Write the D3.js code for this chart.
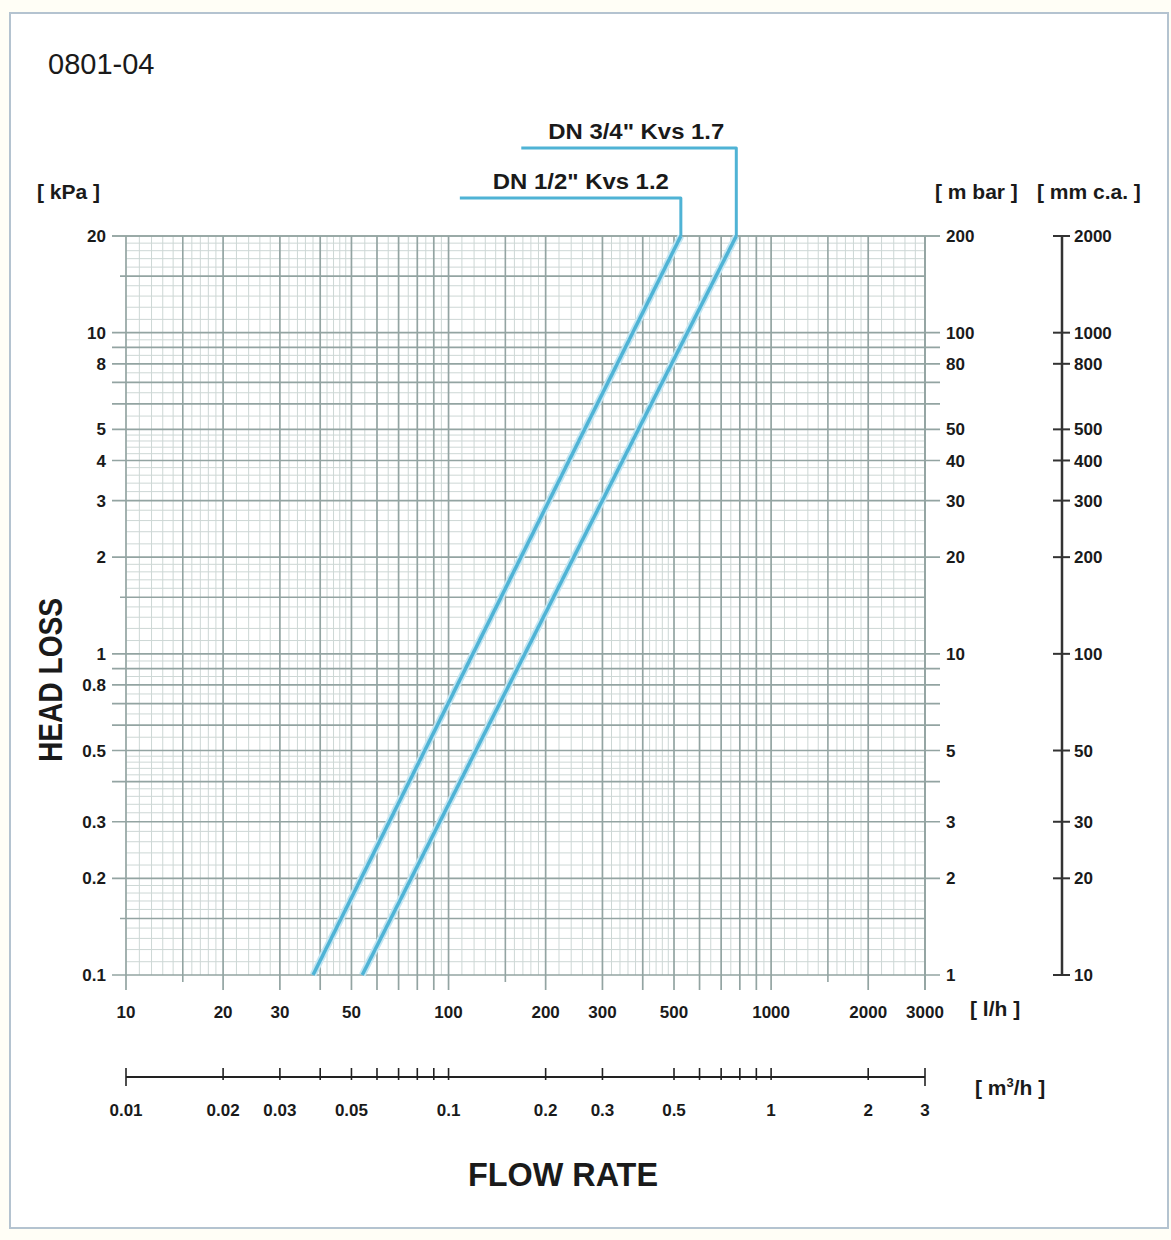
<!DOCTYPE html>
<html>
<head>
<meta charset="utf-8">
<script src="https://cdn.jsdelivr.net/npm/d3@7"></script>
<style>
  body { margin: 0; background: #fffef6; }
  svg { display: block; }
  text { font-family: "Liberation Sans", Arial, sans-serif; fill: #1a1a1a; }
</style>
</head>
<body>
<div id="chart"></div>
<script>
// Chart data
var seriesNames = ['DN 1/2" Kvs 1.2', 'DN 3/4" Kvs 1.7'];
var headLoss = [0.1, 20];            // kPa
var flowHalf = [38, 525];            // l/h
var flowThreeQuarter = [54, 780];    // l/h

// Tick labels
var flowTicks = [10, 20, 30, 50, 100, 200, 300, 500, 1000, 2000, 3000];
var kpaTicks = [20, 10, 8, 5, 4, 3, 2, 1, 0.8, 0.5, 0.3, 0.2, 0.1];
var mbarTicks = [200, 100, 80, 50, 40, 30, 20, 10, 5, 3, 2, 1];
var mmcaTicks = [2000, 1000, 800, 500, 400, 300, 200, 100, 50, 30, 20, 10];
var m3hTicks = [0.01, 0.02, 0.03, 0.04, 0.05, 0.06, 0.07, 0.08, 0.09, 0.1,
                0.2, 0.3, 0.5, 0.6, 0.7, 0.8, 0.9, 1, 2, 3];
var m3hLabels = [0.01, 0.02, 0.03, 0.05, 0.1, 0.2, 0.3, 0.5, 1, 2, 3];

var svgWidth = 1171;
var svgHeight = 1240;

var plot = { left: 126, right: 925, top: 236, bottom: 975 };

var svg = d3.select("#chart")
  .append("svg")
  .attr("width", svgWidth)
  .attr("height", svgHeight);

// page frame
svg.append("rect")
  .attr("x", 10).attr("y", 13)
  .attr("width", 1158).attr("height", 1215)
  .attr("fill", "#ffffff")
  .attr("stroke", "#b4c3d0")
  .attr("stroke-width", 2);

var xScale = d3.scaleLog().domain([10, 3000]).range([plot.left, plot.right]);
var yScale = d3.scaleLog().domain([0.1, 20]).range([plot.bottom, plot.top]);
var yMbar = d3.scaleLog().domain([1, 200]).range([plot.bottom, plot.top]);
var yMmca = d3.scaleLog().domain([10, 2000]).range([plot.bottom, plot.top]);
var xM3h = d3.scaleLog().domain([0.01, 3]).range([plot.left, plot.right]);

// log paper grid: majors at 1,1.5,2..9; minors in between
function gridValues(lo, hi) {
  var major = [], half = [], minor = [];
  for (var d = lo; d < hi; d *= 10) {
    [1, 2, 3, 4, 5, 6, 7, 8, 9].forEach(function(m) { major.push(d * m); });
    half.push(d * 1.5);
    d3.range(1.1, 2.0, 0.1).forEach(function(m) { if (Math.abs(m - 1.5) > 0.01) minor.push(d * m); });
    d3.range(2.2, 5.0, 0.2).forEach(function(m) { if (Math.abs(m - Math.round(m)) > 0.01) minor.push(d * m); });
    d3.range(5.5, 10, 0.5).forEach(function(m) { if (Math.abs(m - Math.round(m)) > 0.01) minor.push(d * m); });
  }
  var keep = function(v) { return v <= hi * 1.0001; };
  major.push(hi);
  return { major: major.filter(keep), half: half.filter(keep), minor: minor.filter(keep) };
}

var gx = gridValues(10, 3000);
var gy = gridValues(0.1, 20);

var grid = svg.append("g");

grid.selectAll(".minor-x").data(gx.minor).enter().append("line")
  .attr("x1", d => xScale(d)).attr("x2", d => xScale(d))
  .attr("y1", plot.top).attr("y2", plot.bottom)
  .attr("stroke", "#cdd7d5").attr("stroke-width", 1);

grid.selectAll(".minor-y").data(gy.minor).enter().append("line")
  .attr("y1", d => yScale(d)).attr("y2", d => yScale(d))
  .attr("x1", plot.left).attr("x2", plot.right)
  .attr("stroke", "#cdd7d5").attr("stroke-width", 1);

grid.selectAll(".half-x").data(gx.half).enter().append("line")
  .attr("x1", d => xScale(d)).attr("x2", d => xScale(d))
  .attr("y1", plot.top).attr("y2", plot.bottom + 7)
  .attr("stroke", "#93a4a2").attr("stroke-width", 1.6);

grid.selectAll(".half-y").data(gy.half).enter().append("line")
  .attr("y1", d => yScale(d)).attr("y2", d => yScale(d))
  .attr("x1", plot.left - 6).attr("x2", plot.right)
  .attr("stroke", "#93a4a2").attr("stroke-width", 1.6);

grid.selectAll(".major-x").data(gx.major).enter().append("line")
  .attr("x1", d => xScale(d)).attr("x2", d => xScale(d))
  .attr("y1", plot.top).attr("y2", plot.bottom + 15)
  .attr("stroke", "#93a4a2").attr("stroke-width", 1.7);

grid.selectAll(".major-y").data(gy.major).enter().append("line")
  .attr("y1", d => yScale(d)).attr("y2", d => yScale(d))
  .attr("x1", plot.left - 14).attr("x2", plot.right + 15)
  .attr("stroke", "#93a4a2").attr("stroke-width", 1.7);

// curves
var curves = [
  { name: seriesNames[0], flow: flowHalf, labelY: 198 },
  { name: seriesNames[1], flow: flowThreeQuarter, labelY: 148 }
];
var leaderLen = [221, 215];

var line = d3.line()
  .x(d => xScale(d[0]))
  .y(d => yScale(d[1]));

curves.forEach(function(c, i) {
  var pts = c.flow.map((f, j) => [f, headLoss[j]]);
  svg.append("path")
    .attr("d", line(pts))
    .attr("fill", "none")
    .attr("stroke", "#c3e6f2")
    .attr("stroke-width", 7);
  svg.append("path")
    .attr("d", line(pts))
    .attr("fill", "none")
    .attr("stroke", "#4fb3d5")
    .attr("stroke-width", 3.5);

  var tx = xScale(c.flow[1]);
  var ty = yScale(headLoss[1]);
  svg.append("path")
    .attr("d", `M${tx},${ty} L${tx},${c.labelY} L${tx - leaderLen[i]},${c.labelY}`)
    .attr("fill", "none")
    .attr("stroke", "#4fb3d5")
    .attr("stroke-width", 3)
    .attr("stroke-linejoin", "round");

  svg.append("text")
    .attr("x", tx - 12)
    .attr("y", c.labelY - 9)
    .attr("text-anchor", "end")
    .attr("textLength", 176)
    .attr("lengthAdjust", "spacingAndGlyphs")
    .style("font-size", "22px")
    .style("font-weight", "bold")
    .text(c.name);
});

// left kPa labels
svg.append("g").selectAll("text").data(kpaTicks).enter().append("text")
  .attr("x", 106)
  .attr("y", d => yScale(d))
  .attr("dy", "0.36em")
  .attr("text-anchor", "end")
  .style("font-size", "17px")
  .style("font-weight", "bold")
  .text(d => d);

// right mbar labels
svg.append("g").selectAll("text").data(mbarTicks).enter().append("text")
  .attr("x", 946)
  .attr("y", d => yMbar(d))
  .attr("dy", "0.36em")
  .style("font-size", "17px")
  .style("font-weight", "bold")
  .text(d => d);

// mm c.a. axis
var mmAxis = svg.append("g");
mmAxis.append("line")
  .attr("x1", 1062).attr("x2", 1062)
  .attr("y1", yMmca(2000)).attr("y2", yMmca(10))
  .attr("stroke", "#333").attr("stroke-width", 2.5);
mmAxis.selectAll(".tk").data(mmcaTicks).enter().append("line")
  .attr("x1", 1053).attr("x2", 1070)
  .attr("y1", d => yMmca(d)).attr("y2", d => yMmca(d))
  .attr("stroke", "#333").attr("stroke-width", 2);
mmAxis.selectAll("text").data(mmcaTicks).enter().append("text")
  .attr("x", 1074)
  .attr("y", d => yMmca(d))
  .attr("dy", "0.36em")
  .style("font-size", "17px")
  .style("font-weight", "bold")
  .text(d => d);

// bottom l/h labels
svg.append("g").selectAll("text").data(flowTicks).enter().append("text")
  .attr("x", d => xScale(d))
  .attr("y", 1012)
  .attr("dy", "0.36em")
  .attr("text-anchor", "middle")
  .style("font-size", "17px")
  .style("font-weight", "bold")
  .text(d => d);

// m3/h axis
var m3Axis = svg.append("g");
m3Axis.append("line")
  .attr("x1", xM3h(0.01)).attr("x2", xM3h(3))
  .attr("y1", 1077).attr("y2", 1077)
  .attr("stroke", "#222").attr("stroke-width", 2);
m3Axis.selectAll(".tk").data(m3hTicks).enter().append("line")
  .attr("x1", d => xM3h(d)).attr("x2", d => xM3h(d))
  .attr("y1", 1068)
  .attr("y2", d => (d === 0.01 || d === 3) ? 1086 : 1080)
  .attr("stroke", "#222").attr("stroke-width", 1.6);
m3Axis.selectAll("text").data(m3hLabels).enter().append("text")
  .attr("x", d => xM3h(d))
  .attr("y", 1110)
  .attr("dy", "0.36em")
  .attr("text-anchor", "middle")
  .style("font-size", "17px")
  .style("font-weight", "bold")
  .text(d => d);

// unit labels
function unit(x, y, txt, anchor) {
  return svg.append("text")
    .attr("x", x).attr("y", y)
    .attr("text-anchor", anchor || "start")
    .style("font-size", "21px")
    .style("font-weight", "bold")
    .text(txt);
}
unit(37, 199, "[ kPa ]");
unit(935, 199, "[ m bar ]");
unit(1037, 199, "[ mm c.a. ]");
unit(970, 1016, "[ l/h ]");
var m3 = unit(975, 1095, "[ m");
m3.append("tspan").attr("dy", -8).style("font-size", "13px").text("3");
m3.append("tspan").attr("dy", 8).text("/h ]");

// axis titles
svg.append("text")
  .attr("transform", "translate(62, 680) rotate(-90)")
  .attr("text-anchor", "middle")
  .attr("textLength", 164)
  .attr("lengthAdjust", "spacingAndGlyphs")
  .style("font-size", "34px")
  .style("font-weight", "bold")
  .text("HEAD LOSS");

svg.append("text")
  .attr("x", 563)
  .attr("y", 1186)
  .attr("text-anchor", "middle")
  .attr("textLength", 190)
  .attr("lengthAdjust", "spacingAndGlyphs")
  .style("font-size", "34px")
  .style("font-weight", "bold")
  .text("FLOW RATE");

// figure code
svg.append("text")
  .attr("x", 48)
  .attr("y", 74)
  .style("font-size", "29px")
  .text("0801-04");
</script>
</body>
</html>
